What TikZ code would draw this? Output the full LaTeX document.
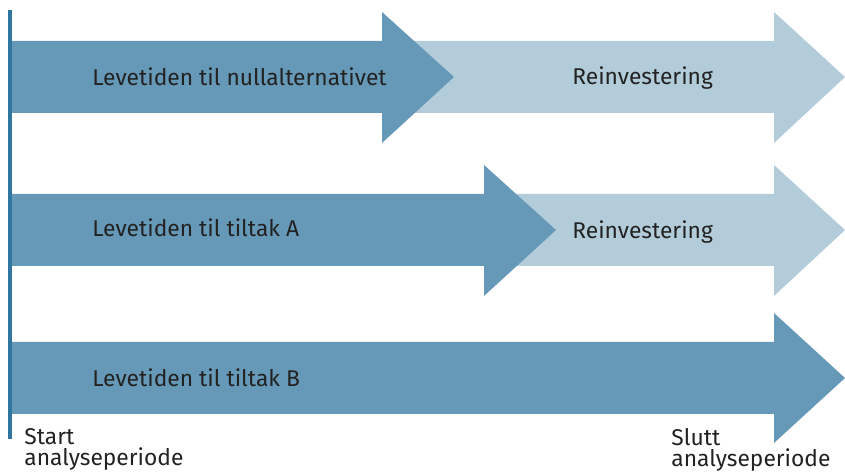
\documentclass[tikz,border=0pt]{standalone}
\usepackage{fontspec}
\setmainfont{Fira Sans}
\usepackage{tikz}

\definecolor{darkarrow}{RGB}{102,153,184}
\definecolor{lightarrow}{RGB}{179,204,218}
\definecolor{startline}{RGB}{48,118,160}
\definecolor{labeltext}{RGB}{34,34,34}

\begin{document}
\begin{tikzpicture}[x=0.5pt,y=-0.5pt,
    label/.style={text=labeltext, font=\fontsize{11.4}{10.5}\selectfont, inner sep=0pt},
    mark label/.style={label, align=left, anchor=north west}]
    \useasboundingbox (0,0) rectangle (845,474);

    \fill[lightarrow] (382,41) -- (774,41) -- (774,12) -- (845,77) -- (774,143) -- (774,113) -- (382,113) -- cycle;
    \fill[darkarrow] (12,41) -- (382,41) -- (382,12) -- (454,77) -- (382,143) -- (382,113) -- (12,113) -- cycle;

    \fill[lightarrow] (484,194) -- (774,194) -- (774,165) -- (845,230) -- (774,296) -- (774,266) -- (484,266) -- cycle;
    \fill[darkarrow] (12,194) -- (484,194) -- (484,165) -- (556,230) -- (484,296) -- (484,266) -- (12,266) -- cycle;

    \fill[darkarrow] (12,342) -- (774,342) -- (774,313) -- (845,378) -- (774,443) -- (774,414) -- (12,414) -- cycle;

    \draw[startline, line width=2.2pt] (10,10) -- (10,439);

    \node[label, anchor=west] (null) at (92,77) {Levetiden til nullalternativet};
    \node[label, anchor=west] (reinvnull) at (572,78) {Reinvestering};
    \node[label, anchor=west] (tiltaka) at (92,228) {Levetiden til tiltak A};
    \node[label, anchor=west] (reinva) at (572,232) {Reinvestering};
    \node[label, anchor=west] (tiltakb) at (92,378) {Levetiden til tiltak B};

    \node[mark label] (start) at (24,428) {Start\\analyseperiode};
    \node[mark label] (slutt) at (671,428) {Slutt\\analyseperiode};
\end{tikzpicture}
\end{document}
